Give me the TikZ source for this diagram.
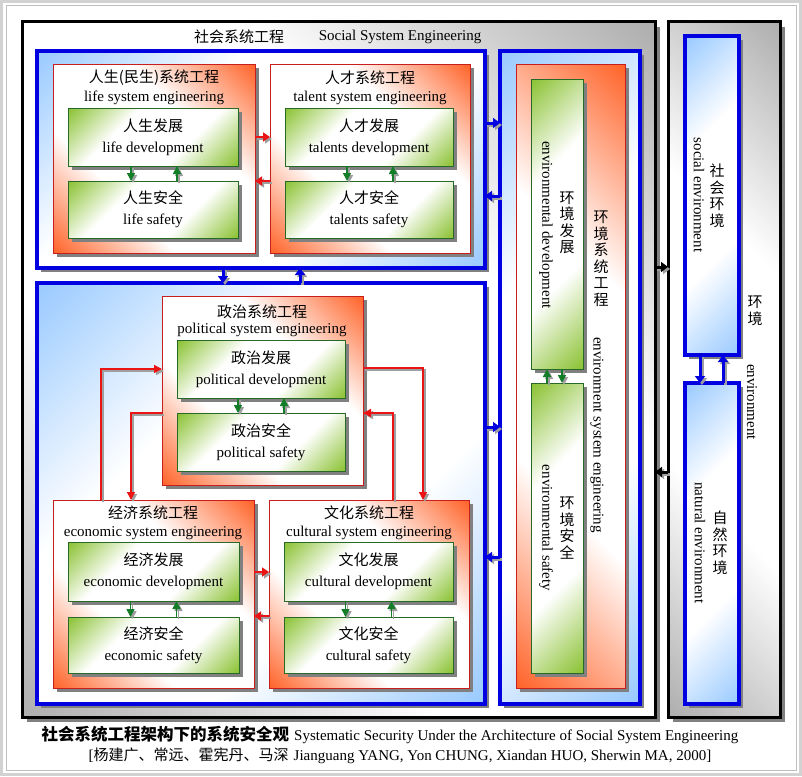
\documentclass[tikz,border=0pt]{standalone}
\usepackage{fontspec}
\setmainfont{Liberation Serif}
\newfontfamily\cjk{Noto Sans CJK SC}
\usetikzlibrary{shadows,arrows.meta}
\definecolor{redC}{RGB}{255,95,35}
\definecolor{greenC}{RGB}{135,192,45}
\definecolor{blueC}{RGB}{150,200,255}
\definecolor{grayC}{RGB}{172,172,172}
\definecolor{boxblue}{RGB}{0,0,225}
\definecolor{redline}{RGB}{200,30,30}
\definecolor{greenline}{RGB}{40,105,40}
\definecolor{arrgreen}{RGB}{20,125,40}
\definecolor{arrred}{RGB}{235,20,20}
\pgfdeclarehorizontalshading{redband}{100bp}{color(0bp)=(redC); color(14bp)=(redC); color(37bp)=(white); color(63bp)=(white); color(86bp)=(redC); color(100bp)=(redC)}
\pgfdeclarehorizontalshading{greenband}{100bp}{color(0bp)=(greenC); color(14bp)=(greenC); color(37bp)=(white); color(63bp)=(white); color(86bp)=(greenC); color(100bp)=(greenC)}
\pgfdeclarehorizontalshading{blueband}{100bp}{color(0bp)=(blueC); color(14bp)=(blueC); color(37bp)=(white); color(63bp)=(white); color(86bp)=(blueC); color(100bp)=(blueC)}
\pgfdeclarehorizontalshading{grayband}{100bp}{color(0bp)=(grayC); color(14bp)=(grayC); color(37bp)=(white); color(63bp)=(white); color(86bp)=(grayC); color(100bp)=(grayC)}
\newcommand\boxat[7]{\node[#1, minimum width=#5pt-#3pt, minimum height=#6pt-#4pt] (#2) at (#3,#4) {#7};}
\newcommand\sarrow[2]{\draw[#1, gray!75, transform canvas={xshift=2pt,yshift=-2pt}] #2; \draw[#1] #2;}
\tikzset{
  every node/.style={font=\fontsize{15pt}{18pt}\selectfont},
  base/.style={inner sep=0pt, outer sep=0pt, anchor=north west, shade},
  shd/.style={drop shadow={shadow xshift=#1, shadow yshift=-#1, fill=black!50, opacity=1}},
  blackbox/.style={base, draw=black, line width=3pt, shading=grayband, shading angle=45, shd=5pt},
  bluebox/.style={base, draw=boxblue, line width=3.5pt, shading=blueband, shading angle=-45, shd=4pt},
  redbox/.style={base, draw=redline, line width=1pt, shading=redband, shading angle=45, shd=4pt},
  greenbox/.style={base, draw=greenline, line width=1pt, shading=greenband, shading angle=-45, shd=4pt, align=center},
  cjkv/.style={align=center, font=\cjk\fontsize{15pt}{16.5pt}\selectfont},
  vtext/.style={rotate=-90},
  bluearr/.style={-{Triangle[length=7pt,width=10pt]}, boxblue, line width=3pt},
  blackarr/.style={-{Triangle[length=7pt,width=10pt]}, black, line width=3pt},
  redarr/.style={-{Triangle[length=7pt,width=9pt]}, arrred, line width=2.5pt},
  greenarr/.style={-{Triangle[length=8pt,width=8pt]}, arrgreen, line width=1.6pt},
  redconn/.style={-{Triangle[length=8pt,width=8pt]}, arrred, line width=1.5pt},
}
\begin{document}
\begin{tikzpicture}[x=1pt,y=-1pt]
\useasboundingbox (0,0) rectangle (802,776);
\fill[white] (0,0) rectangle (802,776);
\draw[gray!35, line width=3pt] (1.5,1.5) rectangle (800.5,774.5);
\draw[gray!50, line width=1pt] (6,6) rectangle (796,770);

% outer black boxes
\boxat{blackbox}{ssys}{22}{22}{655}{717}{}
\boxat{blackbox}{envo}{668}{22}{780}{717}{}

% blue boxes
\boxat{bluebox}{topb}{37}{51}{485}{268}{}
\boxat{bluebox}{lowb}{37}{283}{485}{704}{}
\boxat{bluebox}{envb}{500}{51}{640}{704}{}
\boxat{bluebox}{socenv}{685}{36}{739}{355}{}
\boxat{bluebox}{natenv}{685}{383}{739}{704}{}

% red boxes
\boxat{redbox}{life}{53}{64}{255}{253}{}
\boxat{redbox}{talent}{270}{64}{470}{253}{}
\boxat{redbox}{polit}{162}{296}{363}{485}{}
\boxat{redbox}{econ}{53}{500}{254}{688}{}
\boxat{redbox}{cult}{269}{500}{469}{688}{}
\boxat{redbox}{envsys}{516}{64}{625}{688}{}

% green boxes
\boxat{greenbox}{lifedev}{68}{108}{238}{166}{{\cjk 人生发展}\\[3pt]life development}
\boxat{greenbox}{lifesaf}{68}{181}{238}{238}{{\cjk 人生安全}\\[3pt]life safety}
\boxat{greenbox}{taldev}{285}{108}{453}{166}{{\cjk 人才发展}\\[3pt]talents development}
\boxat{greenbox}{talsaf}{285}{181}{453}{238}{{\cjk 人才安全}\\[3pt]talents safety}
\boxat{greenbox}{poldev}{177}{340}{345}{398}{{\cjk 政治发展}\\[3pt]political development}
\boxat{greenbox}{polsaf}{177}{413}{345}{471}{{\cjk 政治安全}\\[3pt]political safety}
\boxat{greenbox}{ecodev}{68}{542}{239}{601}{{\cjk 经济发展}\\[3pt]economic development}
\boxat{greenbox}{ecosaf}{68}{617}{239}{673}{{\cjk 经济安全}\\[3pt]economic safety}
\boxat{greenbox}{culdev}{284}{542}{453}{601}{{\cjk 文化发展}\\[3pt]cultural development}
\boxat{greenbox}{culsaf}{284}{617}{453}{673}{{\cjk 文化安全}\\[3pt]cultural safety}
\boxat{greenbox}{envdev}{531}{79}{583}{369}{}
\boxat{greenbox}{envsaf}{531}{383}{583}{673}{}

% titles
\node (t1) at (239,37) {{\cjk 社会系统工程}};
\node (t2) at (400,37) {Social System Engineering};
\node (lifeT) at (154,78) {{\cjk 人生(民生)系统工程}};
\node (lifeE) at (154,98) {life system engineering};
\node (talT) at (370,78) {{\cjk 人才系统工程}};
\node (talE) at (370,98) {talent system engineering};
\node (polT) at (262,312) {{\cjk 政治系统工程}};
\node (polE) at (262,330) {political system engineering};
\node (ecoT) at (153,513) {{\cjk 经济系统工程}};
\node (ecoE) at (153,533) {economic system engineering};
\node (culT) at (369,513) {{\cjk 文化系统工程}};
\node (culE) at (369,533) {cultural system engineering};

% environment texts
\node[cjkv] (edC) at (567,223) {环\\境\\发\\展};
\node[vtext] (edE) at (546,225) {environmental development};
\node[cjkv] (esC) at (567,528) {环\\境\\安\\全};
\node[vtext] (esE) at (546,528) {environmental safety};
\node[cjkv] (sysC) at (601,259) {环\\境\\系\\统\\工\\程};
\node[vtext] (sysE) at (597,435) {environment system engineering};
\node[cjkv] (seC) at (717,196) {社\\会\\环\\境};
\node[vtext] (seE) at (699,195) {social environment};
\node[cjkv] (neC) at (720,543) {自\\然\\环\\境};
\node[vtext] (neE) at (700,543) {natural environment};
\node[cjkv] (enC) at (755,311) {环\\境};
\node[vtext] (enE) at (752,402) {environment};

% green arrows
\sarrow{greenarr}{([xshift=-22pt]lifedev.south) -- ([xshift=-22pt]lifesaf.north)}
\sarrow{greenarr}{([xshift=24pt]lifesaf.north) -- ([xshift=24pt]lifedev.south)}
\sarrow{greenarr}{([xshift=-22pt]taldev.south) -- ([xshift=-22pt]talsaf.north)}
\sarrow{greenarr}{([xshift=24pt]talsaf.north) -- ([xshift=24pt]taldev.south)}
\sarrow{greenarr}{([xshift=-23pt]poldev.south) -- ([xshift=-23pt]polsaf.north)}
\sarrow{greenarr}{([xshift=23pt]polsaf.north) -- ([xshift=23pt]poldev.south)}
\sarrow{greenarr}{([xshift=-23pt]ecodev.south) -- ([xshift=-23pt]ecosaf.north)}
\sarrow{greenarr}{([xshift=23pt]ecosaf.north) -- ([xshift=23pt]ecodev.south)}
\sarrow{greenarr}{([xshift=-23pt]culdev.south) -- ([xshift=-23pt]culsaf.north)}
\sarrow{greenarr}{([xshift=23pt]culsaf.north) -- ([xshift=23pt]culdev.south)}
\sarrow{greenarr}{([xshift=-10pt]envsaf.north) -- ([xshift=-10pt]envdev.south)}
\sarrow{greenarr}{([xshift=5pt]envdev.south) -- ([xshift=5pt]envsaf.north)}

% red arrows between systems
\sarrow{redarr}{(life.east |- 0,137) -- (talent.west |- 0,137)}
\sarrow{redarr}{(talent.west |- 0,181) -- (life.east |- 0,181)}
\sarrow{redarr}{(econ.east |- 0,572) -- (cult.west |- 0,572)}
\sarrow{redarr}{(cult.west |- 0,616) -- (econ.east |- 0,616)}

% red connectors political <-> economic / cultural
\sarrow{redconn}{(101,0 |- econ.north) |- (polit.west |- 0,369)}
\sarrow{redconn}{(polit.west |- 0,413) -| (131,0 |- econ.north)}
\sarrow{redconn}{(polit.east |- 0,368) -| (423,0 |- cult.north)}
\sarrow{redconn}{(393,0 |- cult.north) |- (polit.east |- 0,413)}

% blue arrows
\sarrow{bluearr}{(223,0 |- topb.south) -- (223,0 |- lowb.north)}
\sarrow{bluearr}{(300,0 |- lowb.north) -- (300,0 |- topb.south)}
\sarrow{bluearr}{(topb.east |- 0,123) -- (envb.west |- 0,123)}
\sarrow{bluearr}{(envb.west |- 0,196) -- (topb.east |- 0,196)}
\sarrow{bluearr}{(lowb.east |- 0,427) -- (envb.west |- 0,427)}
\sarrow{bluearr}{(envb.west |- 0,557) -- (lowb.east |- 0,557)}
\sarrow{bluearr}{(700,0 |- socenv.south) -- (700,0 |- natenv.north)}
\sarrow{bluearr}{(723,0 |- natenv.north) -- (723,0 |- socenv.south)}

% black arrows
\sarrow{blackarr}{(ssys.east |- 0,267) -- (envo.west |- 0,267)}
\sarrow{blackarr}{(envo.west |- 0,472) -- (ssys.east |- 0,472)}

% caption
\node (cap1) at (390,735) {{\cjk\bfseries\fontsize{16.5pt}{18pt}\selectfont 社会系统工程架构下的系统安全观}\hspace{5pt}Systematic Security Under the Architecture of Social System Engineering};
\node (cap2) at (400,756) {[{\cjk 杨建广、常远、霍宪丹、马深}\hspace{5pt}Jianguang YANG, Yon CHUNG, Xiandan HUO, Sherwin MA, 2000]};
\end{tikzpicture}
\end{document}
